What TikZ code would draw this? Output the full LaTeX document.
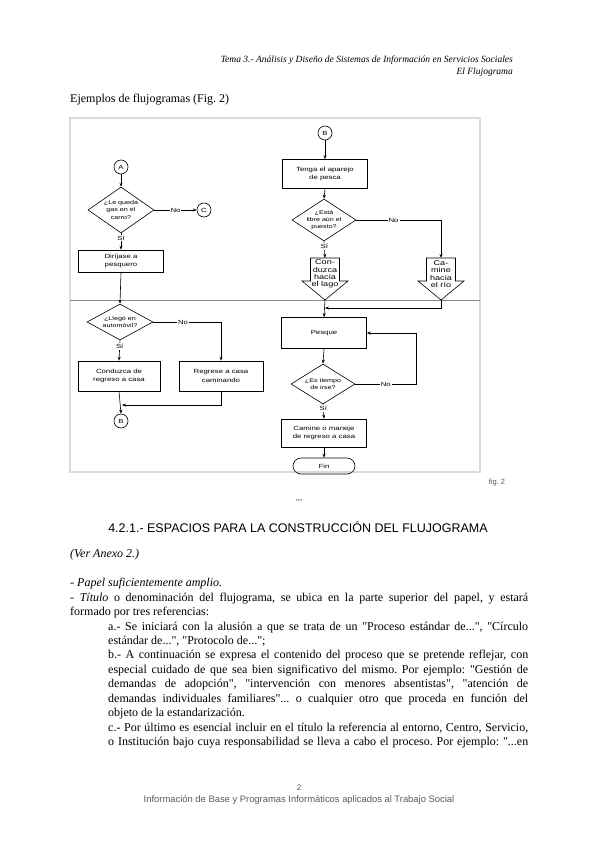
\documentclass[tikz,border=0pt]{standalone}
\usepackage{fontspec}
\setmainfont{Liberation Serif}[Ligatures=TeXOff]
\setsansfont{Liberation Sans}
\newfontfamily\flujo{Liberation Sans}[FakeStretch=1.3]
\usetikzlibrary{positioning,calc,shapes.geometric,arrows.meta}
\definecolor{grismarco}{HTML}{DADADA}
\definecolor{grislinea}{HTML}{8C8C8C}
\definecolor{grispie}{HTML}{595959}
\frenchspacing
\newcommand{\fcaja}{\flujo\fontsize{6}{8.5}\selectfont}
\newcommand{\frombo}{\flujo\fontsize{5.5}{7.2}\selectfont}
\newcommand{\fflecha}{\flujo\fontsize{7}{7.4}\selectfont}
\newcommand{\flechabaja}[4]{%
  \coordinate (#3-top) at (#1,#2);
  \coordinate (#3-tip) at (#1,#2+42);
  \draw[line width=0.6pt] (#1-14.5,#2) -- (#1+14.5,#2) -- (#1+14.5,#2+23)
    -- (#1+23,#2+23) -- (#3-tip) -- (#1-23,#2+23) -- (#1-14.5,#2+23) -- cycle;
  \node[font=\fflecha,align=center,inner sep=0pt] (#3) at (#1,#2+16) {#4};
}

\begin{document}
\begin{tikzpicture}[x=1pt,y=-1pt,>={Stealth[length=4pt,width=3pt]},
  caja/.style={draw,line width=0.6pt,minimum width=85pt,minimum height=#1,
    inner sep=1pt,font=\fcaja,align=center},
  caja/.default=29pt,
  decision/.style={draw,diamond,line width=0.6pt,minimum width=64pt,
    minimum height=#1,inner sep=0pt},
  decision/.default=42pt,
  conector/.style={draw,circle,line width=0.6pt,minimum size=14pt,inner sep=0pt,font=\fcaja},
  texto/.style={font=\frombo,align=center,inner sep=0pt},
  etiqueta/.style={font=\fcaja,fill=white,inner sep=1pt},
  enlace/.style={line width=0.6pt,->}]
  \useasboundingbox (0,0) rectangle (599,848);

  % cabecera
  \node[anchor=east,inner sep=0pt,font=\itshape\fontsize{9.5}{11}\selectfont] (tema) at (513,60)
    {Tema 3.- Análisis y Diseño de Sistemas de Información en Servicios Sociales};
  \node[anchor=east,inner sep=0pt,font=\itshape\fontsize{9.5}{11}\selectfont] (temados) at (513,72) {El Flujograma};
  \node[anchor=west,inner sep=0pt,font=\fontsize{12}{14}\selectfont] (ejemplos) at (70,100) {Ejemplos de flujogramas (Fig. 2)};

  % figura
  \draw[grismarco,line width=1.2pt] (70,118) rectangle (480,472);
  \draw[grislinea,line width=0.8pt] (70,300) -- (480,300);

  % columna izquierda
  \node[conector] (a) at (121,167) {A};
  \node[decision=46pt,minimum width=66pt] (gas) at (121,210) {};
  \node[texto] at (gas) {¿Le queda\\gas en el\\carro?};
  \node[conector] (c) at (204,210) {C};
  \node[caja=22pt] (pesquero) at (121,261) {Diríjase a\\pesquero};
  \node[decision=36pt,minimum width=66pt] (auto) at (120,322) {};
  \node[texto] at (auto) {¿Llegó en\\automóvil?};
  \node[caja=30pt,minimum width=82pt] (conduce) at (119,376) {Conduzca de\\regreso a casa};
  \node[caja=30pt,minimum width=84pt] (camina) at (221,376) {Regrese a casa\\caminando};
  \coordinate (juntauno) at (121,405);
  \node[conector] (buno) at (121,421) {B};

  \draw[enlace] (a) -- (gas.north);
  \draw[enlace] (gas.east) -- node[etiqueta]{No} (c.west);
  \draw[enlace] (gas.south) -- node[etiqueta,pos=0.3]{Sí} (pesquero.north);
  \draw[enlace] (pesquero.south) -- (auto.north);
  \draw[enlace] (auto.east) -| node[etiqueta,pos=0.22]{No} (camina.north);
  \draw[enlace] (auto.south) -- node[etiqueta,pos=0.3]{Sí} (conduce.north);
  \draw[enlace] (conduce.south) -- (buno.north);
  \draw[enlace,shorten >=1pt] (camina.south) |- (juntauno);

  % columna derecha
  \node[conector] (bdos) at (325,133) {B};
  \node[caja] (aparejo) at (325,174) {Tenga el aparejo\\de pesca};
  \node[decision] (libre) at (324,220) {};
  \node[texto] at (libre) {¿Está\\libre aún el\\puesto?};
  \flechabaja{325}{258}{lago}{Con-\\duzca\\hacia\\el lago}
  \flechabaja{441}{258}{rio}{Ca-\\mine\\hacia\\el río}
  \coordinate (juntados) at (324,308);
  \node[caja=31pt] (pesque) at (324,333) {Pesque};
  \node[decision=40pt] (irse) at (323,384) {};
  \node[texto] at (irse) {¿Es tiempo\\de irse?};
  \node[caja=28pt] (regreso) at (324,433) {Camine o maneje\\de regreso a casa};
  \node[draw,line width=0.6pt,rounded corners=8pt,minimum width=62pt,minimum height=16pt,
    inner sep=0pt,font=\fcaja] (fin) at (324,466) {Fin};

  \draw[enlace] (bdos) -- (aparejo.north);
  \draw[enlace] (aparejo.south) -- (libre.north);
  \draw[enlace] (libre.south) -- node[etiqueta,pos=0.3]{Sí} (lago-top);
  \draw[enlace] (libre.east) -| node[etiqueta,pos=0.22]{No} (rio-top);
  \draw[enlace] (lago-tip) -- (pesque.north);
  \draw[enlace,shorten >=1pt] (rio-tip) |- (juntados);
  \draw[enlace] (pesque.south) -- (irse.north);
  \draw[enlace] (irse.east) -- node[etiqueta]{No} ++(61,0) |- (pesque.east);
  \draw[enlace] (irse.south) -- node[etiqueta,pos=0.3]{Sí} (regreso.north);
  \draw[enlace] (regreso.south) -- (fin.north);

  \node[font=\sffamily\fontsize{7.5}{9}\selectfont,text=grispie] (figura) at (497,483) {fig. 2};

  % texto de la pagina
  \node[font=\sffamily\fontsize{6}{7}\selectfont,text=grispie] (asteriscos) at (299,501) {***};
  \node[font=\sffamily\fontsize{12.5}{15}\selectfont] (apartado) at (298,527)
    {4.2.1.- ESPACIOS PARA LA CONSTRUCCIÓN DEL FLUJOGRAMA};
  \node[anchor=west,inner sep=0pt,font=\itshape\fontsize{12}{14}\selectfont] (anexo) at (70,555) {(Ver Anexo 2.)};
  \node[anchor=north west,text width=458pt,align=justify,inner sep=0pt,
    font=\fontsize{12}{14.45}\selectfont] (cuerpo) at (70,578) {\parindent=0pt\frenchspacing
    - \textit{Papel suficientemente amplio.}\par
    - \textit{Título} o denominación del flujograma, se ubica en la parte superior del papel, y estará\linebreak
    formado por tres referencias:\par
    \leftskip=38pt
    a.- Se iniciará con la alusión a que se trata de un "Proceso estándar de...", "Círculo\linebreak
    estándar de...", "Protocolo de...";\par
    b.- A continuación se expresa el contenido del proceso que se pretende reflejar, con\linebreak
    especial cuidado de que sea bien significativo del mismo. Por ejemplo: "Gestión de\linebreak
    demandas de adopción", "intervención con menores absentistas", "atención de\linebreak
    demandas individuales familiares"... o cualquier otro que proceda en función del\linebreak
    objeto de la estandarización.\par
    c.- Por último es esencial incluir en el título la referencia al entorno, Centro, Servicio,\linebreak
    o Institución bajo cuya responsabilidad se lleva a cabo el proceso. Por ejemplo: "...en\parfillskip=0pt\par};

  % pie
  \node[font=\sffamily\fontsize{8}{9}\selectfont,text=grispie] (pagina) at (299,788) {2};
  \node[font=\sffamily\fontsize{9.4}{11}\selectfont,text=grispie] (pie) at (299,800)
    {Información de Base y Programas Informáticos aplicados al Trabajo Social};
\end{tikzpicture}
\end{document}
